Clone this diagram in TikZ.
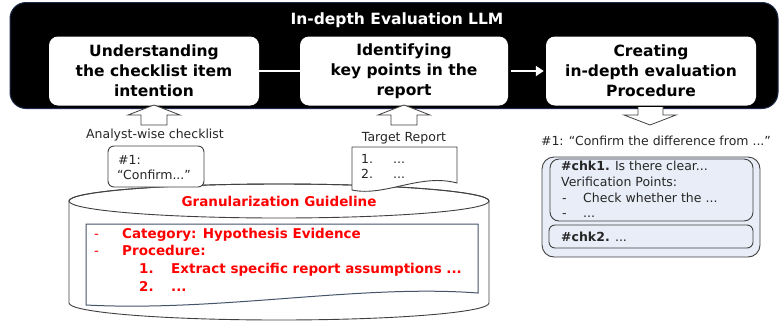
\documentclass[tikz,border=0pt]{standalone}
\usepackage{fontspec}
\setmainfont{DejaVu Sans}
\usetikzlibrary{arrows.meta,calc}
\definecolor{redtxt}{HTML}{FF0000}
\definecolor{navyedge}{HTML}{1F2B4A}
\definecolor{docblue}{HTML}{44546A}
\definecolor{lightfill}{HTML}{E9EDF7}
\definecolor{edgegray}{HTML}{404040}
\definecolor{txtgray}{HTML}{262626}
\begin{document}
\begin{tikzpicture}[x=1pt,y=-1pt,
  stage/.style={fill=white, rounded corners=9pt, minimum width=210pt, minimum height=69pt,
    align=center, inner sep=0pt, font=\bfseries\fontsize{15.5}{20}\selectfont},
  small/.style={inner sep=0pt, anchor=west, text=txtgray, text height=0.72em, text depth=0.22em,
    yshift=-2pt, font=\fontsize{12.5}{15}\selectfont},
  smallc/.style={small, anchor=center},
  redb/.style={inner sep=0pt, anchor=west, text=redtxt, text height=0.72em, text depth=0.22em,
    yshift=-2pt, font=\bfseries\fontsize{13.5}{16}\selectfont},
  redd/.style={redb, font=\fontsize{13.5}{16}\selectfont},
  hollow/.style={fill=white, draw=edgegray, line width=0.8pt, line join=miter},
  flow/.style={white, line width=2.5pt},
  pbox/.style={draw=edgegray, fill=lightfill, line width=0.9pt, inner sep=0pt},
]
\useasboundingbox (0,0) rectangle (781,322);

% LLM container
\node[draw=navyedge, fill=black, line width=1pt, rounded corners=16pt,
  minimum width=768pt, minimum height=106pt, inner sep=0pt] (llm) at (394,55.5) {};
\node[text=white, inner sep=0pt, font=\bfseries\fontsize{15.5}{18}\selectfont] (title) at (397,20) {In-depth Evaluation LLM};

\node[stage] (b1) at (154,71) {Understanding\\the checklist item\\intention};
\node[stage, minimum width=208pt] (b2) at (404,71) {Identifying\\key points in the\\report};
\node[stage] (b3) at (651,71) {Creating\\in-depth evaluation\\Procedure};

\draw[flow] (b1.east) -- (b2.west);
\draw[flow, -{Triangle[length=8pt,width=10pt]}] ([xshift=3pt]b2.east) -- ([xshift=-2pt]b3.west);

% cylinder
\path[fill=white, draw=edgegray, line width=0.9pt] (69,201) -- (69,303)
  arc[start angle=180, end angle=0, x radius=210, y radius=17] -- (489,201)
  arc[start angle=0, end angle=-180, x radius=210, y radius=17] -- cycle;
\draw[edgegray, line width=0.9pt] (279,201) ellipse[x radius=210, y radius=17];
\node[inner sep=0pt, text=redtxt, font=\bfseries\fontsize{13.5}{16}\selectfont] (guide) at (279,201) {Granularization Guideline};

% inner document of guideline
\draw[docblue, fill=white, line width=1pt] (86,224) -- (478,224) -- (478,293)
  .. controls (360,284) and (220,312) .. (86,305) -- cycle;
\node[redd] (d1) at (94,234) {-};
\node[redb] (g1) at (122,234) {Category: Hypothesis Evidence};
\node[redd] (d2) at (94,251) {-};
\node[redb] (g2) at (122,251) {Procedure:};
\node[redb] (n1) at (139,269) {1.};
\node[redb] (g3) at (171,269) {Extract specific report assumptions ...};
\node[redb] (n2) at (139,287) {2.};
\node[redb] (g4) at (171,287) {...};

% analyst checklist
\node[smallc] (alab) at (155,134) {Analyst-wise checklist};
\node[draw=edgegray, fill=white, line width=0.9pt, rounded corners=6pt, minimum width=96pt,
  minimum height=41pt, inner sep=0pt] (chk) at (156,166.5) {};
\node[small] (c1a) at (118,160) {\#1:};
\node[small] (c1b) at (117,175) {“Confirm...”};

% target report
\node[smallc] (tlab) at (404,137) {Target Report};
\draw[edgegray, fill=white, line width=0.9pt] (352,147) coordinate (rep) -- (457,147) -- (457,183)
  .. controls (420,173) and (385,197) .. (352,190) -- cycle;
\node[small] (r1) at (361,159) {1.};
\node[small] (r1b) at (393,159) {...};
\node[small] (r2) at (361,174) {2.};
\node[small] (r2b) at (393,174) {...};

% hollow arrows
\draw[hollow] (141,125) -- (141,115) -- (128,115) -- (154,105) -- (180,115) -- (167,115) -- (167,125) -- cycle;
\draw[hollow] (391,125) -- (391,115) -- (378,115) -- (404,105) -- (430,115) -- (417,115) -- (417,125) -- cycle;
\draw[hollow] (638,107) -- (638,115) -- (624,115) -- (650,125) -- (676,115) -- (663,115) -- (663,107);

% procedure output
\node[smallc] (plab) at (656,141) {\#1: “Confirm the difference from ...”};
\node[pbox, rounded corners=12pt, minimum width=218pt, minimum height=100pt] (proc) at (651,207) {};
\node[pbox, rounded corners=9pt, minimum width=203pt, minimum height=62pt] (k1) at (651.5,190) {};
\node[pbox, rounded corners=6pt, minimum width=204pt, minimum height=23pt] (k2) at (651,236.5) {};
\node[small] (k1a) at (561,166) {\textbf{\#chk1.} Is there clear...};
\node[small] (k1b) at (561,182) {Verification Points:};
\node[small] (k1c) at (562,198) {-};
\node[small] (k1d) at (583,198) {Check whether the ...};
\node[small] (k1e) at (562,213) {-};
\node[small] (k1f) at (583,213) {...};
\node[small] (k2a) at (561,237) {\textbf{\#chk2.} ...};
\end{tikzpicture}
\end{document}
